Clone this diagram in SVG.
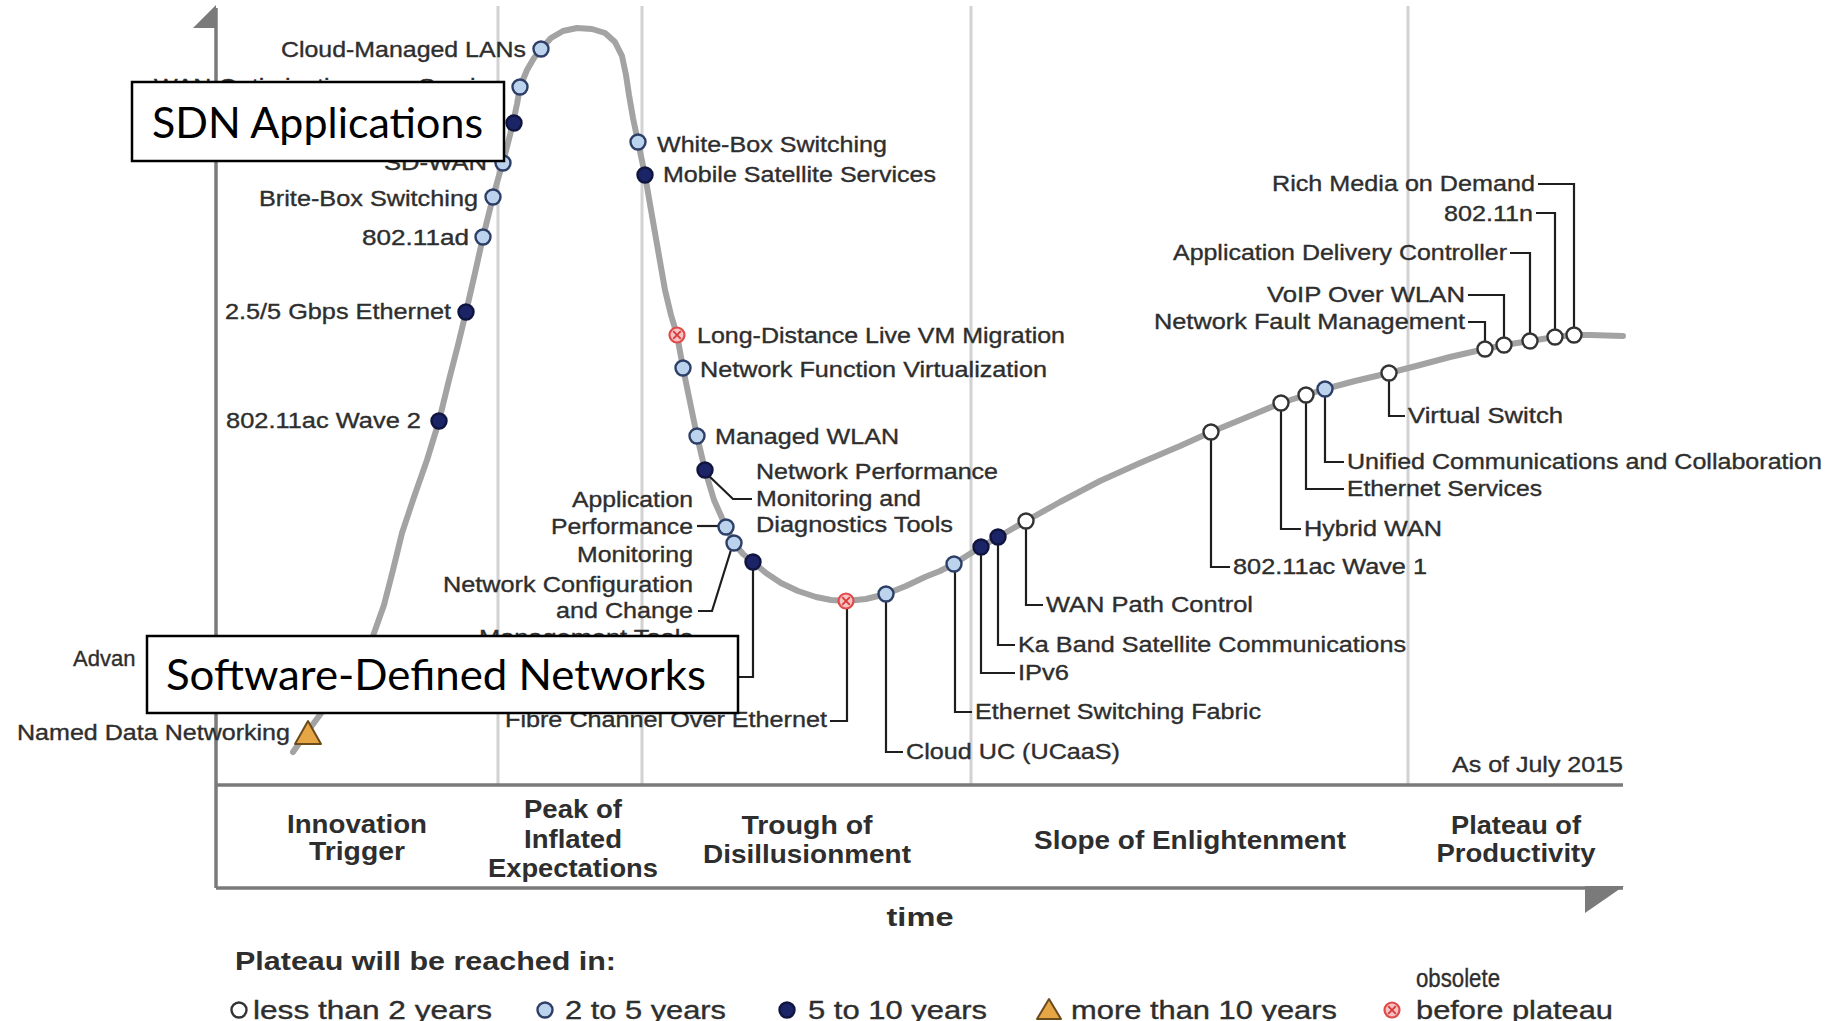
<svg xmlns="http://www.w3.org/2000/svg" width="1838" height="1021" viewBox="0 0 1838 1021">
  <style>
    .lbl { font-family: "Liberation Sans", Arial, sans-serif; font-size: 22px; fill: #2e2e2e; stroke: #2e2e2e; stroke-width: 0.35; }
    .ph { font-family: "Liberation Sans", Arial, sans-serif; font-size: 25px; font-weight: bold; fill: #2e2e2e; text-anchor: middle; }
    .lg { font-family: "Liberation Sans", Arial, sans-serif; font-size: 25px; fill: #2e2e2e; stroke: #2e2e2e; stroke-width: 0.35; }
    .box { fill: #fff; stroke: #000; stroke-width: 2.5; }
    .boxt { font-family: Lato, "Open Sans", sans-serif; font-size: 43px; fill: #000; }
    .grid { stroke: #d2d2d2; stroke-width: 3; fill: none; }
    .axis { stroke: #7a7a7a; stroke-width: 3.5; fill: none; }
    .curve { stroke: #a3a3a3; stroke-width: 6; fill: none; stroke-linejoin: round; stroke-linecap: round; }
    .conn { stroke: #1e1e1e; stroke-width: 2.2; fill: none; }
    .w { fill: #fff; stroke: #333; stroke-width: 2.4; }
    .lb { fill: #bcd3ee; stroke: #2d3f66; stroke-width: 2.4; }
    .nv { fill: #1c2468; stroke: #10153f; stroke-width: 2.4; }
    .ob { fill: #f6c2c2; stroke: #e04a4a; stroke-width: 2.2; }
    .obx { stroke: #d83a3a; stroke-width: 1.8; fill: none; }
    .tri { fill: #e6a646; stroke: #6b4a1c; stroke-width: 2; stroke-linejoin: round; }
  </style>
  <defs>
    <g id="obs">
      <circle class="ob" r="7.5"/>
      <path class="obx" d="M-3.8,-3.8 L3.8,3.8 M3.8,-3.8 L-3.8,3.8"/>
    </g>
  </defs>

  <rect width="1838" height="1021" fill="#fff"/>

  <!-- phase dividers -->
  <g id="grid">
    <line class="grid" x1="498" y1="6" x2="498" y2="785"/>
    <line class="grid" x1="642" y1="6" x2="642" y2="785"/>
    <line class="grid" x1="971" y1="6" x2="971" y2="785"/>
    <line class="grid" x1="1408" y1="6" x2="1408" y2="785"/>
  </g>

  <!-- axes -->
  <g id="axes">
    <line class="axis" x1="216" y1="8" x2="216" y2="888"/>
    <polygon points="216,5 216,28 193,28" fill="#7a7a7a"/>
    <line class="axis" x1="216" y1="785" x2="1623" y2="785"/>
    <line class="axis" x1="216" y1="888" x2="1623" y2="888"/>
    <polygon points="1585,886 1624,886 1585,913" fill="#7a7a7a"/>
  </g>

  <!-- hype curve -->
  <path id="hype-curve" class="curve" d="M293,752 L300,742 L308,731 L322,712 L338,690 L355,664 L373,636 L384,605 L393,570 L402,533 L414,497 L427,460 L439,421 L449,380 L458,345 L466,312 L475,273 L483,237 L488,217 L493,197 L498,179 L503,162 L508,143 L513,123 L517,104 L520,87 L527,70 L534,58 L541,49 L551,38 L563,31 L577,28 L592,29 L605,33 L615,42 L622,56 L626,75 L629,95 L633,118 L638,142 L645,175 L651,210 L658,250 L665,290 L671,315 L677,335 L683,368 L690,402 L697,436 L705,470 L714,500 L726,527 L734,543 L743,554 L753,562 L766,573 L781,583 L798,591 L816,597 L831,600 L846,601 L866,599 L886,594 L906,586 L925,577 L940,571 L954,564 L968,555 L981,547 L998,537 L1012,529 L1026,521 L1060,502 L1100,481 L1140,463 L1180,446 L1211,432 L1245,418 L1281,403 L1306,395 L1325,389 L1355,381 L1389,373 L1420,365 L1450,357 L1485,349 L1504,345 L1530,341 L1555,337 L1574,335 L1590,335 L1623,336"/>

  <!-- label leaders -->
  <g id="connectors">
    <path class="conn" d="M697,526 H719"/>
    <path class="conn" d="M709,476 L733,499 H752"/>
    <path class="conn" d="M698,611 H712 L731,550"/>
    <path class="conn" d="M753,570 V677 H700"/>
    <path class="conn" d="M830,721 H847 V608"/>
    <path class="conn" d="M886,602 V752 H903"/>
    <path class="conn" d="M955,572 V712 H972"/>
    <path class="conn" d="M981,555 V673 H1015"/>
    <path class="conn" d="M998,545 V645 H1015"/>
    <path class="conn" d="M1026,529 V605 H1043"/>
    <path class="conn" d="M1211,440 V567 H1230"/>
    <path class="conn" d="M1281,411 V529 H1301"/>
    <path class="conn" d="M1306,403 V489 H1344"/>
    <path class="conn" d="M1325,397 V462 H1344"/>
    <path class="conn" d="M1389,381 V416 H1405"/>
    <path class="conn" d="M1468,322 H1485 V341"/>
    <path class="conn" d="M1468,295 H1504 V337"/>
    <path class="conn" d="M1510,253 H1530 V333"/>
    <path class="conn" d="M1536,213 H1555 V329"/>
    <path class="conn" d="M1538,184 H1574 V327"/>
  </g>

  <!-- technologies -->
  <g id="named-data-networking"><polygon class="tri" points="308,721 295,744 321,744"/><text class="lbl" x="17" y="740" textLength="273" lengthAdjust="spacingAndGlyphs">Named Data Networking</text></g>
  <g id="advanced"><text class="lbl" x="73" y="666">Advan</text></g>
  <g id="wave2"><circle class="nv" cx="439" cy="421" r="7.5"/><text class="lbl" x="226" y="428" textLength="195" lengthAdjust="spacingAndGlyphs">802.11ac Wave 2</text></g>
  <g id="gbps"><circle class="nv" cx="466" cy="312" r="7.5"/><text class="lbl" x="225" y="319" textLength="226" lengthAdjust="spacingAndGlyphs">2.5/5 Gbps Ethernet</text></g>
  <g id="ad"><circle class="lb" cx="483" cy="237" r="7.5"/><text class="lbl" x="362" y="245" textLength="107" lengthAdjust="spacingAndGlyphs">802.11ad</text></g>
  <g id="brite-box"><circle class="lb" cx="493" cy="197" r="7.5"/><text class="lbl" x="259" y="206" textLength="219" lengthAdjust="spacingAndGlyphs">Brite-Box Switching</text></g>
  <g id="sd-wan"><circle class="lb" cx="503" cy="163" r="7.5"/><text class="lbl" x="384" y="170" textLength="103" lengthAdjust="spacingAndGlyphs">SD-WAN</text></g>
  <g id="sdn-apps"><circle class="nv" cx="514" cy="123" r="7.5"/></g>
  <g id="wan-opt"><circle class="lb" cx="520" cy="87" r="7.5"/><text class="lbl" x="154" y="94" textLength="348" lengthAdjust="spacingAndGlyphs">WAN Optimization as a Service</text></g>
  <g id="cloud-lans"><circle class="lb" cx="541" cy="49" r="7.5"/><text class="lbl" x="281" y="57" textLength="245" lengthAdjust="spacingAndGlyphs">Cloud-Managed LANs</text></g>
  <g id="white-box"><circle class="lb" cx="638" cy="142" r="7.5"/><text class="lbl" x="657" y="152" textLength="230" lengthAdjust="spacingAndGlyphs">White-Box Switching</text></g>
  <g id="mobile-sat"><circle class="nv" cx="645" cy="175" r="7.5"/><text class="lbl" x="663" y="182" textLength="273" lengthAdjust="spacingAndGlyphs">Mobile Satellite Services</text></g>
  <g id="vm-migration"><use href="#obs" x="677" y="335"/><text class="lbl" x="697" y="343" textLength="368" lengthAdjust="spacingAndGlyphs">Long-Distance Live VM Migration</text></g>
  <g id="nfv"><circle class="lb" cx="683" cy="368" r="7.5"/><text class="lbl" x="700" y="377" textLength="347" lengthAdjust="spacingAndGlyphs">Network Function Virtualization</text></g>
  <g id="managed-wlan"><circle class="lb" cx="697" cy="436" r="7.5"/><text class="lbl" x="715" y="444" textLength="184" lengthAdjust="spacingAndGlyphs">Managed WLAN</text></g>
  <g id="npm">
    <circle class="nv" cx="705" cy="470" r="7.5"/>
    <text class="lbl" x="756" y="479" textLength="242" lengthAdjust="spacingAndGlyphs">Network Performance</text>
    <text class="lbl" x="756" y="506" textLength="165" lengthAdjust="spacingAndGlyphs">Monitoring and</text>
    <text class="lbl" x="756" y="532" textLength="197" lengthAdjust="spacingAndGlyphs">Diagnostics Tools</text>
  </g>
  <g id="apm">
    <circle class="lb" cx="726" cy="527" r="7.5"/>
    <text class="lbl" x="572" y="507" textLength="121" lengthAdjust="spacingAndGlyphs">Application</text>
    <text class="lbl" x="551" y="534" textLength="142" lengthAdjust="spacingAndGlyphs">Performance</text>
    <text class="lbl" x="577" y="562" textLength="116" lengthAdjust="spacingAndGlyphs">Monitoring</text>
  </g>
  <g id="nccm">
    <circle class="lb" cx="734" cy="543" r="7.5"/>
    <text class="lbl" x="443" y="592" textLength="250" lengthAdjust="spacingAndGlyphs">Network Configuration</text>
    <text class="lbl" x="556" y="618" textLength="137" lengthAdjust="spacingAndGlyphs">and Change</text>
    <text class="lbl" x="479" y="645" textLength="214" lengthAdjust="spacingAndGlyphs">Management Tools</text>
  </g>
  <g id="sdn"><circle class="nv" cx="753" cy="562" r="7.5"/></g>
  <g id="fcoe"><use href="#obs" x="846" y="601"/><text class="lbl" x="505" y="727" textLength="322" lengthAdjust="spacingAndGlyphs">Fibre Channel Over Ethernet</text></g>
  <g id="cloud-uc"><circle class="lb" cx="886" cy="594" r="7.5"/><text class="lbl" x="906" y="759" textLength="214" lengthAdjust="spacingAndGlyphs">Cloud UC (UCaaS)</text></g>
  <g id="esf"><circle class="lb" cx="954" cy="564" r="7.5"/><text class="lbl" x="975" y="719" textLength="286" lengthAdjust="spacingAndGlyphs">Ethernet Switching Fabric</text></g>
  <g id="ipv6"><circle class="nv" cx="981" cy="547" r="7.5"/><text class="lbl" x="1018" y="680" textLength="51" lengthAdjust="spacingAndGlyphs">IPv6</text></g>
  <g id="ka-band"><circle class="nv" cx="998" cy="537" r="7.5"/><text class="lbl" x="1018" y="652" textLength="388" lengthAdjust="spacingAndGlyphs">Ka Band Satellite Communications</text></g>
  <g id="wan-path"><circle class="w" cx="1026" cy="521" r="7.5"/><text class="lbl" x="1046" y="612" textLength="207" lengthAdjust="spacingAndGlyphs">WAN Path Control</text></g>
  <g id="wave1"><circle class="w" cx="1211" cy="432" r="7.5"/><text class="lbl" x="1233" y="574" textLength="194" lengthAdjust="spacingAndGlyphs">802.11ac Wave 1</text></g>
  <g id="hybrid-wan"><circle class="w" cx="1281" cy="403" r="7.5"/><text class="lbl" x="1304" y="536" textLength="138" lengthAdjust="spacingAndGlyphs">Hybrid WAN</text></g>
  <g id="eth-services"><circle class="w" cx="1306" cy="395" r="7.5"/><text class="lbl" x="1347" y="496" textLength="195" lengthAdjust="spacingAndGlyphs">Ethernet Services</text></g>
  <g id="ucc"><circle class="lb" cx="1325" cy="389" r="7.5"/><text class="lbl" x="1347" y="469" textLength="475" lengthAdjust="spacingAndGlyphs">Unified Communications and Collaboration</text></g>
  <g id="virtual-switch"><circle class="w" cx="1389" cy="373" r="7.5"/><text class="lbl" x="1408" y="423" textLength="155" lengthAdjust="spacingAndGlyphs">Virtual Switch</text></g>
  <g id="nfm"><circle class="w" cx="1485" cy="349" r="7.5"/><text class="lbl" x="1154" y="329" textLength="311" lengthAdjust="spacingAndGlyphs">Network Fault Management</text></g>
  <g id="voip"><circle class="w" cx="1504" cy="345" r="7.5"/><text class="lbl" x="1267" y="302" textLength="198" lengthAdjust="spacingAndGlyphs">VoIP Over WLAN</text></g>
  <g id="adc"><circle class="w" cx="1530" cy="341" r="7.5"/><text class="lbl" x="1173" y="260" textLength="334" lengthAdjust="spacingAndGlyphs">Application Delivery Controller</text></g>
  <g id="n"><circle class="w" cx="1555" cy="337" r="7.5"/><text class="lbl" x="1444" y="221" textLength="89" lengthAdjust="spacingAndGlyphs">802.11n</text></g>
  <g id="rich-media"><circle class="w" cx="1574" cy="335" r="7.5"/><text class="lbl" x="1272" y="191" textLength="263" lengthAdjust="spacingAndGlyphs">Rich Media on Demand</text></g>

  <text class="lbl" x="1452" y="772" textLength="171" lengthAdjust="spacingAndGlyphs">As of July 2015</text>

  <!-- phases -->
  <g id="phases">
    <text class="ph" x="357" y="833" textLength="140" lengthAdjust="spacingAndGlyphs">Innovation</text>
    <text class="ph" x="357" y="860" textLength="96" lengthAdjust="spacingAndGlyphs">Trigger</text>
    <text class="ph" x="573" y="818" textLength="98" lengthAdjust="spacingAndGlyphs">Peak of</text>
    <text class="ph" x="573" y="848" textLength="98" lengthAdjust="spacingAndGlyphs">Inflated</text>
    <text class="ph" x="573" y="877" textLength="170" lengthAdjust="spacingAndGlyphs">Expectations</text>
    <text class="ph" x="807" y="834" textLength="131" lengthAdjust="spacingAndGlyphs">Trough of</text>
    <text class="ph" x="807" y="863" textLength="208" lengthAdjust="spacingAndGlyphs">Disillusionment</text>
    <text class="ph" x="1190" y="849" textLength="312" lengthAdjust="spacingAndGlyphs">Slope of Enlightenment</text>
    <text class="ph" x="1516" y="834" textLength="130" lengthAdjust="spacingAndGlyphs">Plateau of</text>
    <text class="ph" x="1516" y="862" textLength="159" lengthAdjust="spacingAndGlyphs">Productivity</text>
    <text class="ph" x="920" y="926" textLength="67" lengthAdjust="spacingAndGlyphs">time</text>
  </g>

  <!-- legend -->
  <g id="legend">
    <text class="ph" x="235" y="970" style="text-anchor:start" textLength="381" lengthAdjust="spacingAndGlyphs">Plateau will be reached in:</text>
    <circle class="w" cx="239" cy="1010" r="7.5"/>
    <text class="lg" x="253" y="1019" textLength="239" lengthAdjust="spacingAndGlyphs">less than 2 years</text>
    <circle class="lb" cx="545" cy="1010" r="7.5"/>
    <text class="lg" x="565" y="1019" textLength="161" lengthAdjust="spacingAndGlyphs">2 to 5 years</text>
    <circle class="nv" cx="787" cy="1010" r="7.5"/>
    <text class="lg" x="808" y="1019" textLength="179" lengthAdjust="spacingAndGlyphs">5 to 10 years</text>
    <polygon class="tri" points="1049,999 1037,1019 1061,1019"/>
    <text class="lg" x="1071" y="1019" textLength="266" lengthAdjust="spacingAndGlyphs">more than 10 years</text>
    <use href="#obs" x="1392" y="1010"/>
    <text class="lg" x="1416" y="987" textLength="84" lengthAdjust="spacingAndGlyphs">obsolete</text>
    <text class="lg" x="1416" y="1019" textLength="197" lengthAdjust="spacingAndGlyphs">before plateau</text>
  </g>

  <!-- callout boxes -->
  <g id="callout-sdn-applications">
    <rect class="box" x="132" y="82" width="372" height="79"/>
    <text class="boxt" x="152" y="138" textLength="331" lengthAdjust="spacingAndGlyphs">SDN Applications</text>
  </g>
  <g id="callout-software-defined-networks">
    <rect class="box" x="147" y="636" width="591" height="77"/>
    <text class="boxt" x="166" y="690" textLength="540" lengthAdjust="spacingAndGlyphs">Software-Defined Networks</text>
  </g>
</svg>
